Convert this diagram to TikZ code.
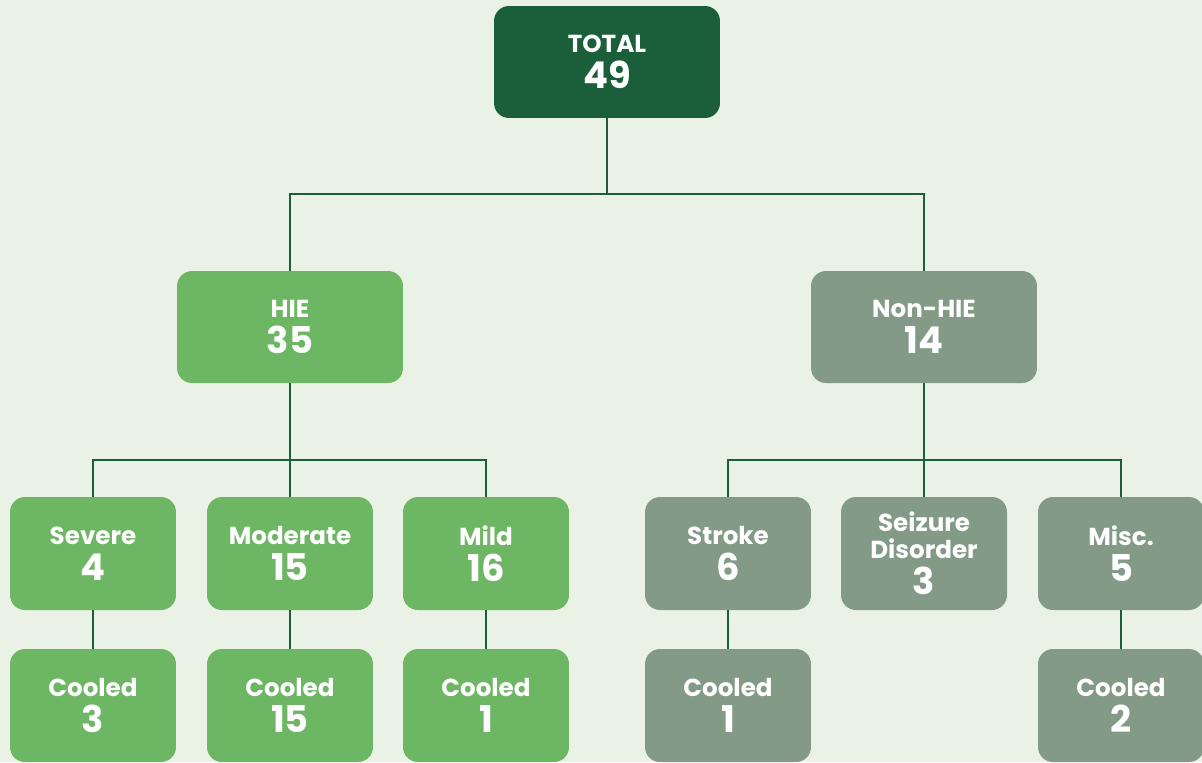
\documentclass[tikz,border=0pt]{standalone}
\usepackage{fontspec}
\setmainfont{Poppins}
\usepackage{tikz}

\definecolor{bggreen}{HTML}{EAF2E6}
\definecolor{darkgreen}{HTML}{1A5F3A}
\definecolor{hiegreen}{HTML}{6DB663}
\definecolor{nongreen}{HTML}{829A86}

\newcommand{\lbl}{\fontsize{14}{15.5}\selectfont}
\newcommand{\num}{\fontsize{21}{21}\selectfont}

\tikzset{
    box/.style={rounded corners=0.3cm, text=white, font=\bfseries, align=center,
        minimum width=3.32cm, minimum height=2.26cm, inner sep=0pt},
    topbox/.style={box, fill=darkgreen, minimum width=4.52cm, minimum height=2.24cm},
    midbox/.style={box, minimum width=4.52cm, minimum height=2.24cm},
    hiebox/.style={fill=hiegreen},
    nonbox/.style={fill=nongreen},
    link/.style={draw=darkgreen, line width=1.35pt}
}

\begin{document}
\begin{tikzpicture}[x=0.02cm, y=-0.02cm]
    \fill[bggreen] (0,0) rectangle (1202,762);
    \useasboundingbox (0,0) rectangle (1202,762);
%%   kw   (name)   (x, y)   {text}
    \node[topbox] (total) at (607,62) {\lbl TOTAL\\[4pt]\num 49};

    \node[midbox, hiebox] (hie) at (290,327) {\lbl HIE\\[4pt]\num 35};
    \node[midbox, nonbox] (nonhie) at (924,327) {\lbl Non-HIE\\[4pt]\num 14};

    \node[box, hiebox] (severe) at (93,553.5) {\lbl Severe\\[4pt]\num 4};
    \node[box, hiebox] (moderate) at (290,553.5) {\lbl Moderate\\[4pt]\num 15};
    \node[box, hiebox] (mild) at (486,553.5) {\lbl Mild\\[4pt]\num 16};
    \node[box, nonbox] (stroke) at (728,553.5) {\lbl Stroke\\[4pt]\num 6};
    \node[box, nonbox] (seizure) at (924,553.5) {\lbl Seizure\\[3pt]\lbl Disorder\\[4pt]\num 3};
    \node[box, nonbox] (misc) at (1121,553.5) {\lbl Misc.\\[4pt]\num 5};

    \node[box, hiebox] (cooleda) at (93,705.5) {\lbl Cooled\\[4pt]\num 3};
    \node[box, hiebox] (cooledb) at (290,705.5) {\lbl Cooled\\[4pt]\num 15};
    \node[box, hiebox] (cooledc) at (486,705.5) {\lbl Cooled\\[4pt]\num 1};
    \node[box, nonbox] (cooledd) at (728,705.5) {\lbl Cooled\\[4pt]\num 1};
    \node[box, nonbox] (coolede) at (1121,705.5) {\lbl Cooled\\[4pt]\num 2};

    \coordinate (jtop) at (607,194);
    \coordinate (jhie) at (290,460);
    \coordinate (jnon) at (924,460);

    \draw[link] (total) -- (jtop);
    \draw[link] (hie.north) |- (jtop);
    \draw[link] (nonhie.north) |- (jtop);

    \draw[link] (hie) -- (jhie);
    \draw[link] (moderate) -- (jhie);
    \draw[link] (severe.north) |- (jhie);
    \draw[link] (mild.north) |- (jhie);

    \draw[link] (nonhie) -- (jnon);
    \draw[link] (seizure) -- (jnon);
    \draw[link] (stroke.north) |- (jnon);
    \draw[link] (misc.north) |- (jnon);

    \draw[link] (severe) -- (cooleda);
    \draw[link] (moderate) -- (cooledb);
    \draw[link] (mild) -- (cooledc);
    \draw[link] (stroke) -- (cooledd);
    \draw[link] (misc) -- (coolede);
\end{tikzpicture}
\end{document}
